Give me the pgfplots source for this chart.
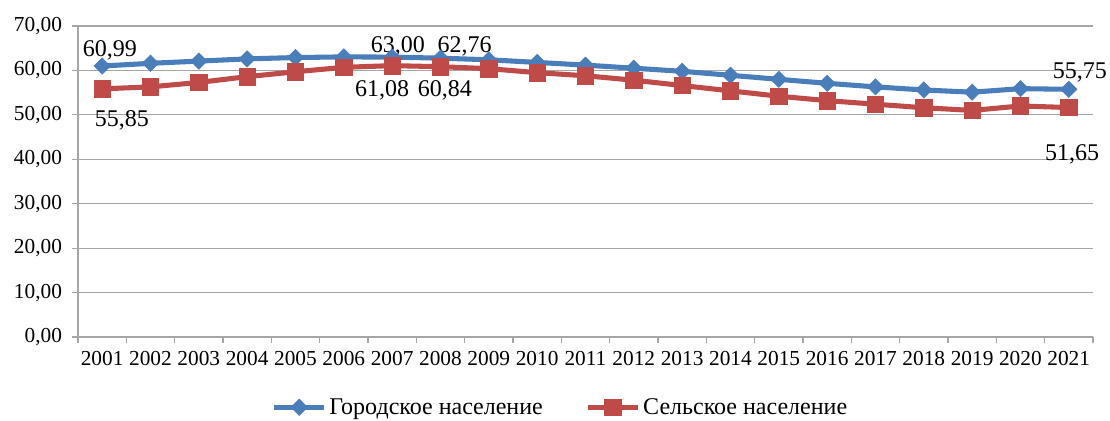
\documentclass[border=0pt]{standalone}
\usepackage{fontspec}
\setmainfont{Liberation Serif}
\usepackage{pgfplots}
\pgfplotsset{compat=1.18}
\definecolor{cblue}{HTML}{4A7EBB}
\definecolor{cred}{HTML}{BE4B48}
\definecolor{cgrid}{HTML}{A6A6A6}
\begin{document}
\begin{tikzpicture}[font=\fontsize{16}{19}\selectfont]
\begin{axis}[
  scale only axis,
  width=761.25pt, height=233.25pt,
  xmin=2000.5, xmax=2021.5,
  ymin=0, ymax=70,
  axis x line*=bottom, axis y line*=left,
  axis line style={draw=cgrid, line width=0.9pt},
  xtick={2001,...,2021},
  xticklabels={2001,2002,2003,2004,2005,2006,2007,2008,2009,2010,2011,2012,2013,2014,2015,2016,2017,2018,2019,2020,2021},
  major x tick style={draw=none},
  minor xtick={2000.5,2001.5,...,2021.5},
  minor tick length=4.5pt,
  minor x tick style={draw=cgrid, line width=0.9pt},
  ytick={0,10,...,70},
  major tick length=4.5pt,
  tick align=outside,
  major y tick style={draw=cgrid, line width=0.9pt},
  ymajorgrids,
  grid style={draw=cgrid, line width=0.9pt},
  yticklabel style={/pgf/number format/fixed, /pgf/number format/fixed zerofill, /pgf/number format/precision=2, /pgf/number format/use comma, /pgf/number format/assume math mode=true, xshift=-4pt},
  xticklabel style={yshift=-3pt},
  legend columns=2,
  legend style={draw=none, at={(0.475,-0.226)}, anchor=center, inner sep=0pt, column sep=1pt,
     /tikz/every even column/.append style={column sep=31pt},
     nodes={inner sep=1pt}, font=\fontsize{18}{21}\selectfont},
  legend image code/.code={\draw[#1, mark repeat=2, mark phase=2] plot coordinates {(0pt,0pt) (18.75pt,0pt) (37.5pt,0pt)};},
  clip=false,
]
\addplot[cblue, line width=3.8pt, mark=square*, mark size=4.3pt, mark options={rotate=45, line width=0.5pt, fill=cblue}] coordinates {
(2001,60.99) (2002,61.6) (2003,62.1) (2004,62.6) (2005,62.9) (2006,63.05) (2007,63.00)
(2008,62.76) (2009,62.4) (2010,61.8) (2011,61.2) (2012,60.5) (2013,59.8) (2014,58.9)
(2015,58.0) (2016,57.1) (2017,56.3) (2018,55.6) (2019,55.1) (2020,55.9) (2021,55.75)};
\addlegendentry{Городское население}
\addplot[cred, line width=3.8pt, mark=square*, mark size=6.2pt, mark options={line width=0.5pt, fill=cred}] coordinates {
(2001,55.85) (2002,56.3) (2003,57.3) (2004,58.6) (2005,59.7) (2006,60.7) (2007,61.08)
(2008,60.84) (2009,60.4) (2010,59.5) (2011,58.8) (2012,57.8) (2013,56.6) (2014,55.4)
(2015,54.2) (2016,53.2) (2017,52.4) (2018,51.6) (2019,51.0) (2020,52.0) (2021,51.65)};
\addlegendentry{Сельское население}
\begin{scope}[font=\fontsize{18}{21}\selectfont]
\node at (axis cs:2001.16,64.6) {60,99};
\node at (axis cs:2001.41,48.8) {55,85};
\node at (axis cs:2007.12,65.5) {63,00};
\node at (axis cs:2008.5,65.5) {62,76};
\node at (axis cs:2006.79,55.6) {61,08};
\node at (axis cs:2008.09,55.6) {60,84};
\node at (axis cs:2021.23,59.6) {55,75};
\node at (axis cs:2021.07,41.0) {51,65};
\end{scope}
\coordinate (BL) at (rel axis cs:0,0);
\end{axis}
\pgfresetboundingbox
\path[use as bounding box] (BL) ++(-58.5pt,-63pt) rectangle ++(832.5pt,315.75pt);
\end{tikzpicture}
\end{document}
